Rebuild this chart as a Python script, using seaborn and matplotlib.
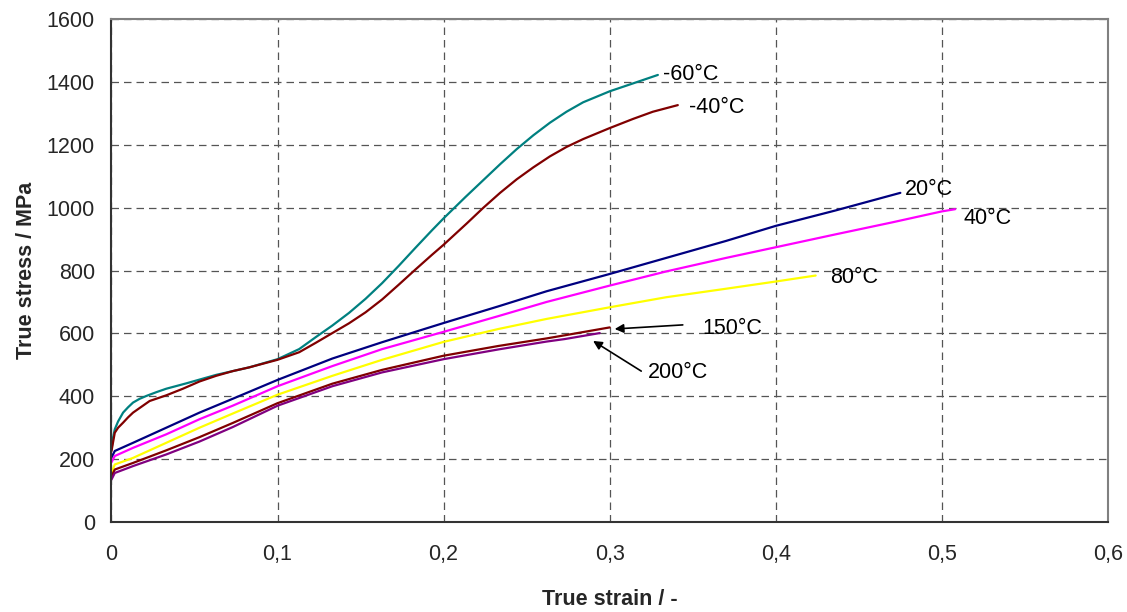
import numpy as np
import pandas as pd
import matplotlib
matplotlib.use("Agg")
import matplotlib.pyplot as plt
import seaborn as sns
from matplotlib.ticker import FuncFormatter, MultipleLocator

# strain / stress points
strain_m60 = [0, 0.001, 0.002, 0.004, 0.007, 0.010, 0.013, 0.017, 0.021, 0.027, 0.033, 0.045, 0.063, 0.083, 0.100,
              0.113, 0.123, 0.133, 0.143, 0.153, 0.163, 0.173, 0.183, 0.193, 0.200, 0.213, 0.224, 0.234, 0.244,
              0.254, 0.264, 0.274, 0.284, 0.300, 0.314, 0.329]
stress_m60 = [230, 270, 295, 320, 348, 365, 380, 392, 401, 413, 424, 441, 468, 492, 518,
              550, 588, 625, 665, 710, 760, 815, 872, 928, 966, 1033, 1088, 1138, 1186,
              1230, 1270, 1305, 1335, 1370, 1395, 1422]

strain_m40 = [0, 0.001, 0.002, 0.004, 0.007, 0.010, 0.013, 0.023, 0.033, 0.043, 0.053, 0.063, 0.073, 0.083, 0.100,
              0.113, 0.123, 0.133, 0.143, 0.153, 0.163, 0.173, 0.183, 0.193, 0.200, 0.214, 0.224, 0.234, 0.244,
              0.254, 0.264, 0.274, 0.284, 0.300, 0.314, 0.326, 0.341]
stress_m40 = [225, 255, 284, 300, 316, 333, 348, 385, 403, 424, 447, 465, 480, 492, 516,
              540, 570, 601, 632, 667, 708, 755, 803, 850, 882, 950, 1000, 1047, 1090,
              1128, 1163, 1193, 1218, 1253, 1282, 1305, 1326]

strain_20 = [0, 0.002, 0.013, 0.033, 0.053, 0.073, 0.100, 0.133, 0.163, 0.200, 0.233, 0.262, 0.300, 0.334,
             0.370, 0.400, 0.436, 0.475]
stress_20 = [205, 226, 252, 300, 348, 392, 452, 520, 572, 633, 686, 734, 789, 840, 894, 942, 991, 1047]

strain_40 = [0, 0.002, 0.013, 0.033, 0.053, 0.073, 0.100, 0.133, 0.163, 0.200, 0.233, 0.262, 0.300, 0.334,
             0.370, 0.400, 0.436, 0.470, 0.500, 0.508]
stress_40 = [190, 210, 236, 279, 327, 370, 432, 496, 550, 605, 655, 700, 752, 797, 840, 874, 915, 953, 988, 995]

strain_80 = [0, 0.002, 0.013, 0.033, 0.053, 0.073, 0.100, 0.133, 0.163, 0.200, 0.233, 0.262, 0.300, 0.334,
             0.370, 0.400, 0.424]
stress_80 = [156, 183, 204, 252, 300, 345, 405, 465, 516, 573, 614, 646, 683, 715, 742, 765, 784]

strain_150 = [0, 0.002, 0.013, 0.033, 0.053, 0.073, 0.100, 0.133, 0.163, 0.200, 0.233, 0.262, 0.273, 0.300]
stress_150 = [145, 167, 188, 228, 270, 315, 378, 440, 484, 529, 560, 584, 594, 619]

strain_200 = [0, 0.002, 0.013, 0.033, 0.053, 0.073, 0.100, 0.133, 0.163, 0.200, 0.233, 0.262, 0.273, 0.294]
stress_200 = [135, 156, 178, 215, 256, 302, 370, 432, 476, 518, 549, 574, 582, 601]

labels = ["-60°C", "-40°C", "20°C", "40°C", "80°C", "150°C", "200°C"]
colors = ["#008080", "#800000", "#000080", "#FF00FF", "#FFFF00", "#800000", "#800080"]

series = [
    (strain_m60, stress_m60), (strain_m40, stress_m40), (strain_20, stress_20),
    (strain_40, stress_40), (strain_80, stress_80), (strain_150, stress_150),
    (strain_200, stress_200),
]

sns.set_style("white")
plt.rcParams['font.family'] = ['Liberation Sans', 'DejaVu Sans']

fig, ax = plt.subplots(figsize=(11.27, 6.12), dpi=100)
fig.subplots_adjust(left=0.0989, right=0.9831, top=0.969, bottom=0.147)

frames = []
for lab, (xs, ys) in zip(labels, series):
    frames.append(pd.DataFrame({"strain": xs, "stress": ys, "temp": lab}))
df = pd.concat(frames, ignore_index=True)

sns.lineplot(data=df, x="strain", y="stress", hue="temp", palette=dict(zip(labels, colors)),
             hue_order=labels, sort=False, estimator=None, linewidth=1.6, legend=False, ax=ax)

ax.set_xlim(0, 0.6)
ax.set_ylim(0, 1600)
ax.xaxis.set_major_locator(MultipleLocator(0.1))
ax.yaxis.set_major_locator(MultipleLocator(200))
ax.xaxis.set_major_formatter(FuncFormatter(lambda v, p: "0" if abs(v) < 1e-9 else ("%.1f" % v).replace(".", ",")))

ax.grid(True, color="#555555", linestyle=(0, (6, 4)), linewidth=0.9)
ax.set_axisbelow(True)
for side in ["top", "right"]:
    ax.spines[side].set_color("#808080")
    ax.spines[side].set_linewidth(1.5)
for side in ["left", "bottom"]:
    ax.spines[side].set_color("#333333")
    ax.spines[side].set_linewidth(1.5)

ax.tick_params(axis="both", direction="out", length=5, width=1, color="#333333", labelsize=15.5)
ax.tick_params(axis="x", pad=11)
ax.tick_params(axis="y", pad=7)
ax.set_xlabel("True strain / -", fontsize=15.5, fontweight="bold", labelpad=17)
ax.set_ylabel("True stress / MPa", fontsize=15.5, fontweight="bold", labelpad=7)

# curve labels
txt = dict(fontsize=15.5, color="black", va="center", ha="left")
ax.text(0.332, 1422, "-60°C", **txt)
ax.text(0.348, 1320, "-40°C", **txt)
ax.text(0.478, 1059, "20°C", **txt)
ax.text(0.513, 964, "40°C", **txt)
ax.text(0.433, 779, "80°C", **txt)
ax.text(0.3555, 614, "150°C", **txt)
ax.text(0.323, 477, "200°C", **txt)
arrow = dict(arrowstyle="-|>", color="black", lw=1.2, mutation_scale=13, shrinkA=0, shrinkB=0)
ax.annotate("", xy=(0.303, 614), xytext=(0.344, 627), arrowprops=arrow)
ax.annotate("", xy=(0.290, 576), xytext=(0.319, 480), arrowprops=arrow)

fig.savefig("out.png", dpi=100, facecolor="white")
